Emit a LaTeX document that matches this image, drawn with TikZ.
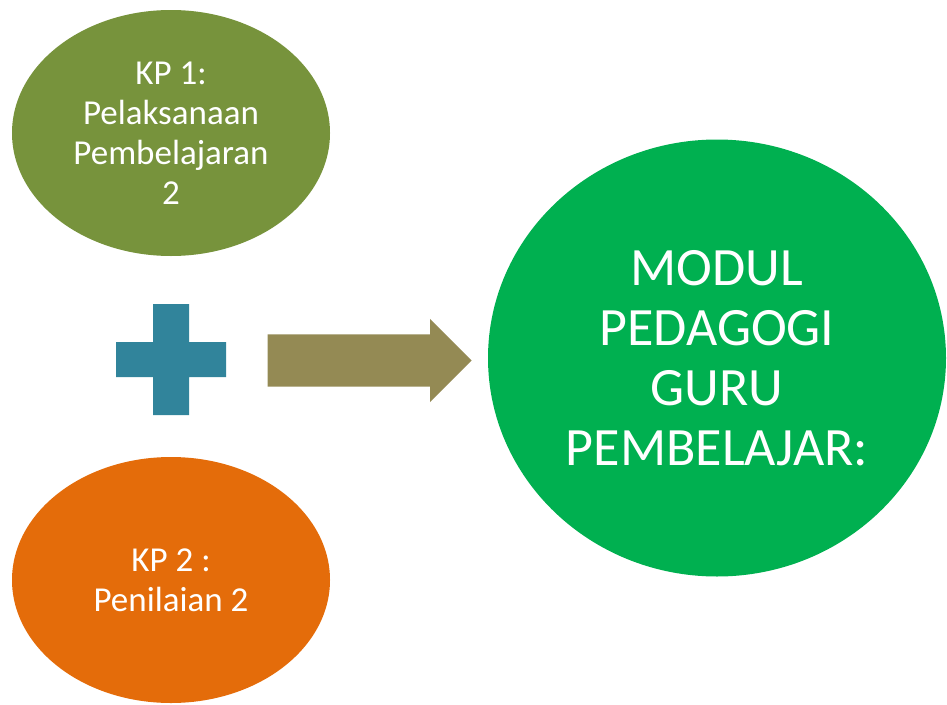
\documentclass[tikz,border=0pt]{standalone}
\usepackage{fontspec}
\setmainfont{Carlito}
\usetikzlibrary{shapes}
\usetikzlibrary{shapes.arrows}

\definecolor{kpolive}{HTML}{77933C}
\definecolor{kporange}{HTML}{E46C0A}
\definecolor{modgreen}{HTML}{00B050}
\definecolor{plusteal}{HTML}{31849B}
\definecolor{arrowkhaki}{HTML}{948A54}

\begin{document}
\begin{tikzpicture}[x=1pt, y=-1pt]
   \tikzset{KPStyle/.style={ellipse, inner sep=0pt, minimum width=318pt, minimum height=246pt,
      text=white, align=center, font=\fontsize{35}{40}\selectfont}}
   \tikzset{ArrowStyle/.style={single arrow, fill=arrowkhaki, inner xsep=0pt, inner ysep=26pt,
      minimum height=204pt, minimum width=83pt, single arrow head extend=15.5pt}}
   \useasboundingbox (0,0) rectangle (947,704);
   \node[KPStyle, fill=kpolive] (kp1) at (171,133) {KP 1:\\Pelaksanaan\\Pembelajaran\\2};
   \node[KPStyle, fill=kporange] (kp2) at (171,580) {KP 2 :\\Penilaian 2};
   \node[KPStyle, fill=modgreen, minimum width=458pt, minimum height=437pt,
      font=\fontsize{54}{60}\selectfont] (modul) at (717,358) {MODUL\\PEDAGOGI\\GURU\\PEMBELAJAR:};
   % plus sign
   \fill[plusteal] (153,304) -- (189,304) -- (189,342) -- (226,342) -- (226,377) -- (189,377)
      -- (189,415) -- (153,415) -- (153,377) -- (116,377) -- (116,342) -- (153,342) -- cycle;
   \node[ArrowStyle, anchor=tip] (arrow) at (472,360.5) {};
\end{tikzpicture}
\end{document}
